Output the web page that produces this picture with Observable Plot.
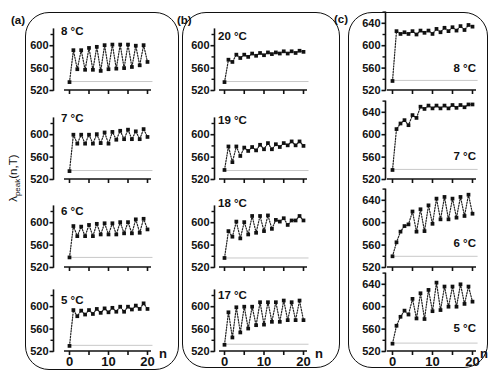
<!DOCTYPE html>
<html><head><meta charset="utf-8">
<script src="https://cdn.jsdelivr.net/npm/d3@7"></script>
<script src="https://cdn.jsdelivr.net/npm/@observablehq/plot@0.6"></script>
<style>
body{margin:0;background:#fff;}
#chart{position:relative;width:489px;height:370px;overflow:hidden;font-family:"Liberation Sans",Arial,sans-serif;color:#111;}
.frame{position:absolute;border:1.6px solid #111;border-radius:24px;box-sizing:border-box;}
.lbl{position:absolute;font-weight:bold;font-size:11.5px;white-space:nowrap;line-height:1;}
.panel{position:absolute;}
.ytitle{position:absolute;font-size:11.5px;white-space:nowrap;transform:rotate(-90deg);transform-origin:center;line-height:1;}
.ytitle sub{font-size:8px;}
</style></head><body><div id="chart"></div>
<script>
// ---------- data ----------
const nValues = [0,1,2,3,4,5,6,7,8,9,10,11,12,13,14,15,16,17,18,19,20];

const labelsA = ["8 °C","7 °C","6 °C","5 °C"];
const labelsB = ["20 °C","19 °C","18 °C","17 °C"];
const labelsC = ["8 °C","7 °C","6 °C","5 °C"];

// column (a)
const a8 = [535,592,558,592,557,596,557,598,555,601,558,602,559,602,560,602,562,600,565,601,571];
const a7 = [535,600,584,600,584,600,584,601,585,604,584,605,591,607,592,609,592,606,592,610,596];
const a6 = [538,594,576,593,576,596,576,598,579,599,579,599,579,601,581,601,581,606,582,607,588];
const a5 = [530,594,583,593,586,594,587,596,589,597,590,598,591,600,591,600,595,602,596,606,596];
// column (b)
const b20 = [535,575,571,584,578,584,580,586,582,587,583,588,585,588,586,590,586,590,587,591,589];
const b19 = [537,579,551,579,562,577,571,578,572,582,574,585,574,583,578,585,581,588,581,588,580];
const b18 = [537,585,575,602,572,601,579,612,582,612,585,613,589,605,602,608,596,604,604,612,604];
const b17 = [532,590,545,599,554,600,561,600,567,608,568,608,573,608,573,611,576,608,576,611,576];
// column (c)
const c8 = [537,626,621,624,621,626,620,627,623,627,621,630,624,632,626,633,627,635,628,637,634];
const c7 = [537,610,620,626,617,635,630,650,646,652,647,652,647,652,647,653,648,653,649,654,654];
const c6 = [540,565,584,594,597,620,584,624,585,631,598,643,606,646,606,643,609,646,612,650,616];
const c5 = [534,566,582,593,586,614,579,624,578,630,592,643,594,636,600,636,600,640,605,636,609];

// grey reference level (ground value) per panel
const greyA = [536,536,538,531];
const greyB = [536,536,537,533];
const greyC = [538,538,540,535];

const yTicksAB = [520,560,600];
const yMinorAB = [540,580,620];
const yTicksC = [520,560,600,640];
const yMinorC = [540,580,620,660];
const xTicks = [0,5,10,15,20];
const xLabelled = [0,10,20];

// ---------- layout (pixels) ----------
const cols = {
  a: {left: 20, width: 150, axisX: 53.5, n0: 69, n20: 147, ymax: 630, ticks: yTicksAB, minor: yMinorAB,
      series: [a8,a7,a6,a5], labels: labelsA, grey: greyA, labelTop: [26,113,206,295], labelLeft: 61, anchor: "left", nLeft: 159},
  b: {left: 180, width: 150, axisX: 214.5, n0: 224, n20: 303, ymax: 630, ticks: yTicksAB, minor: yMinorAB,
      series: [b20,b19,b18,b17], labels: labelsB, grey: greyB, labelTop: [31,115,198,290], labelLeft: 218, anchor: "left", nLeft: 315},
  c: {left: 345, width: 144, axisX: 385.5, n0: 392, n20: 472, ymax: 660, ticks: yTicksC, minor: yMinorC,
      series: [c8,c7,c6,c5], labels: labelsC, grey: greyC, labelTop: [63,151,238,323], labelRight: 476, anchor: "right", nLeft: 480}
};
const rowBase = [89.5, 178.5, 266.5, 351];
const pxPerUnit = 0.56;

const chart = document.getElementById("chart");

function addDiv(cls, html, style) {
  const d = document.createElement("div");
  d.className = cls; d.innerHTML = html;
  Object.assign(d.style, style);
  chart.appendChild(d);
  return d;
}

// frames
addDiv("frame", "", {left: "25px", top: "12px", width: "154px", height: "358px"});
addDiv("frame", "", {left: "182px", top: "12px", width: "158px", height: "356px"});
addDiv("frame", "", {left: "348px", top: "12px", width: "140px", height: "356px"});
addDiv("lbl", "(a)", {left: "11px", top: "15px"});
addDiv("lbl", "(b)", {left: "177px", top: "15px"});
addDiv("lbl", "(c)", {left: "334px", top: "14px"});

for (const key of ["a","b","c"]) {
  const C = cols[key];
  C.series.forEach((vals, row) => {
    const base = rowBase[row];
    const T = base - 86;
    const H = 104;
    const yb = base - T;
    const data = nValues.map((n, i) => ({n, v: vals[i]}));
    const bottom = row === 3;
    const axisLines = (index, scales, values, dims) => {
      const g = d3.create("svg:g").attr("stroke", "#111").attr("stroke-width", 1.6);
      g.append("line").attr("x1", dims.marginLeft).attr("x2", dims.marginLeft)
        .attr("y1", scales.y(520) + 0.8).attr("y2", scales.y(C.ymax));
      g.append("line").attr("x1", scales.x(0) - 5).attr("x2", scales.x(20) + 4)
        .attr("y1", scales.y(520)).attr("y2", scales.y(520));
      return g.node();
    };
    const svg = Plot.plot({
      width: C.width, height: H,
      marginLeft: C.axisX - C.left, marginRight: C.left + C.width - C.n20,
      marginTop: yb - (C.ymax - 520) * pxPerUnit, marginBottom: H - yb,
      style: {fontFamily: "'Liberation Sans', Arial, sans-serif", fontWeight: "bold", fontSize: "11px", color: "#111", background: "transparent", overflow: "visible"},
      x: {domain: [0, 20], range: [C.n0 - C.left, C.n20 - C.left]},
      y: {domain: [520, 600], range: [yb, yb - 80 * pxPerUnit]},
      marks: [
        Plot.ruleY([C.grey[row]], {x1: -0.3, x2: 21.4, stroke: "#c8c8c8", strokeWidth: 1}),
        Plot.axisY({ticks: C.ticks, tickSize: 4, tickPadding: 1.5, strokeWidth: 1.6, label: null, anchor: "left", fontSize: 11}),
        Plot.axisY({ticks: C.minor.filter(t => t <= C.ymax), tickSize: 3, tickFormat: () => "", strokeWidth: 1.4, label: null, anchor: "left"}),
        Plot.axisX({ticks: xTicks, tickSize: 4, tickPadding: 1, strokeWidth: 1.6, label: null, anchor: "bottom", fontSize: 13,
                    tickFormat: bottom ? (d => xLabelled.includes(d) ? String(d) : "") : () => ""}),
        axisLines,
        Plot.line(data, {x: "n", y: "v", stroke: "#222", strokeWidth: 1.2, strokeDasharray: "1.3,1.5"}),
        Plot.dot(data, {x: "n", y: "v", symbol: "square", r: 2.1, fill: "#111", stroke: "none"})
      ]
    });
    svg.classList.add("panel");
    svg.style.left = C.left + "px";
    svg.style.top = T + "px";
    chart.appendChild(svg);
    // panel label
    if (C.anchor === "left") {
      addDiv("lbl", C.labels[row], {left: C.labelLeft + "px", top: C.labelTop[row] + "px"});
    } else {
      addDiv("lbl", C.labels[row], {right: (489 - C.labelRight) + "px", top: C.labelTop[row] + "px"});
    }
    if (bottom) addDiv("lbl", "n", {left: C.nLeft + "px", top: (base - 4) + "px", fontSize: "13px"});
  });
}

// y axis title
const yt = addDiv("ytitle", "λ<sub>peak</sub>(n,T)", {});
const w = yt.offsetWidth, h = yt.offsetHeight;
yt.style.left = (14 - w / 2) + "px";
yt.style.top = (178 - h / 2) + "px";
</script>
</body></html>
